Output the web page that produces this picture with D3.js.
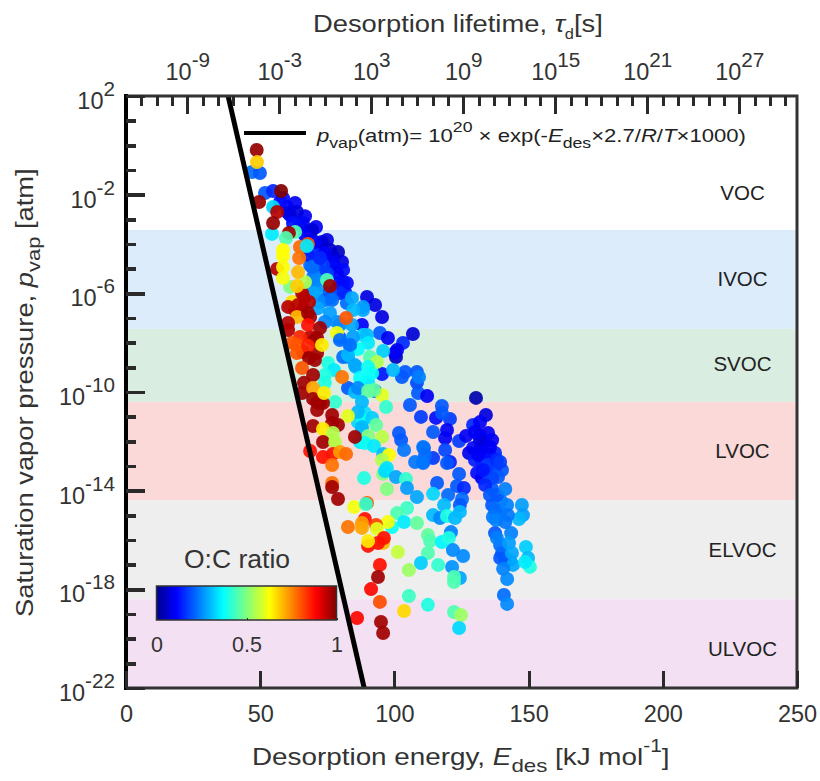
<!DOCTYPE html>
<html lang="en">
<head>
<meta charset="utf-8">
<title>Desorption energy vs saturation vapor pressure</title>
<script src="https://cdn.jsdelivr.net/npm/d3@7"></script>
<style>
    body { margin: 0; background: #fff; }
    svg { display: block; font-family: "Liberation Sans", Arial, sans-serif; }
    .axis text { font-size: 23.5px; fill: #333; }
    .axis line { stroke: #2a2a2a; shape-rendering: crispEdges; }
    .title { font-size: 24px; fill: #333; }
    .band-label { font-size: 20.5px; fill: #222; text-anchor: middle; }
</style>
</head>
<body>
<div id="chart"></div>
<script>
// volatility classes, log10(pvap) of the band edges
const bandNames = ["IVOC", "SVOC", "LVOC", "ELVOC", "ULVOC"];
const bandTop = [-3.43, -7.44, -10.4, -14.4, -18.4];
const bandBottom = [-7.44, -10.4, -14.4, -18.4, -22];
const bandColors = ["#dcecfb", "#d9eee0", "#fad9d8", "#eeeeee", "#f3e0f3"];
const labelNames = ["VOC", "IVOC", "SVOC", "LVOC", "ELVOC", "ULVOC"];
const labelLogP = [-2.2, -5.7, -9.15, -12.67, -16.7, -20.7];

// pvap fit, end points on the frame
const fitE = [38.04, 88.75];
const fitP = [1e2, 1e-22];

const xTicks = [0, 50, 100, 150, 200, 250];
const yMajorExp = [2, -2, -6, -10, -14, -18, -22];
const topMajorExp = [-9, -3, 3, 9, 15, 21, 27];

// blue compounds, drawn first
const eCool = [46.9,49.9,51.8,54.8,58.5,63.0,60.0,66.7,70.8,68.6,
    74.9,72.3,79.0,77.1,80.5,80.9,80.9,81.6,61.1,64.8,
    72.3,69.7,64.5,72.3,76.8,76.0,71.2,89.8,92.8,95.4,
    82.3,87.9,94.6,97.6,103.2,106.9,101.0,100.6,95.4,104.0,
    108.4,102.8,108.4,108.8,112.2,105.8,109.9,82.7,92.8,130.4,
    134.1,117.7,120.7,115.5,117.7,129.3,131.9,119.6,118.9,114.4,
    124.1,126.7,131.9,134.9,136.4,129.3,127.8,133.0,118.9,111.0,
    114.4,110.7,120.7,119.6,137.5,134.5,132.6,130.8,132.6,140.1,
    137.5,135.6,138.6,124.1,115.9,123.3,125.9,136.4,120.0,125.2,
    136.4,139.7,124.4,137.5,140.1,139.4,140.8,121.1,135.6,131.9,
    133.8,130.0,68.6,69.3,72.3,74.1,77.8,
    57.4,60.4,63.7,65.9,62.2,69.3,66.7,73.0,70.4,76.0,
    74.1,67.8,77.1,73.4,69.7,78.6,74.9,69.7,78.6,82.3,
    79.7,72.3,68.6,76.0,69.7,
    131.9,130.0,135.6,131.2,134.9,138.2,136.4,133.0,139.4,133.8,
    135.6,138.2,137.5,139.4,139.4,143.1,141.3];
const logPCool = [-1.08,-1.12,-1.93,-1.85,-2.14,-2.34,-2.50,-2.87,-3.31,-3.55,
    -3.84,-4.04,-4.32,-4.53,-4.73,-5.05,-5.54,-5.95,-2.83,-3.23,
    -4.53,-4.32,-3.11,-5.05,-4.97,-6.19,-5.99,-6.15,-6.47,-6.96,
    -6.39,-7.28,-7.61,-7.81,-8.01,-7.65,-8.30,-8.58,-9.27,-9.19,
    -9.19,-9.39,-9.63,-10.04,-10.16,-10.53,-11.01,-9.84,-9.96,-10.24,
    -10.93,-10.57,-11.09,-11.05,-10.85,-11.34,-11.22,-11.54,-11.87,-11.62,
    -11.99,-11.78,-11.74,-11.66,-11.95,-12.27,-12.47,-12.15,-12.35,-12.27,
    -12.68,-12.84,-12.84,-12.88,-12.47,-12.64,-12.84,-13.28,-13.49,-13.16,
    -13.04,-13.32,-13.45,-13.32,-13.69,-13.81,-13.89,-13.93,-14.18,-14.34,
    -14.58,-14.42,-14.58,-15.72,-16.53,-16.73,-18.23,-15.68,-12.55,-12.35,
    -13.16,-12.76,-4.85,-5.66,-5.66,-6.27,-5.86,
    -2.30,-2.74,-2.70,-3.15,-3.15,-3.43,-3.64,-3.92,-3.92,-4.24,
    -4.36,-4.45,-4.77,-4.85,-4.93,-5.18,-5.18,-5.34,-5.58,-5.58,
    -5.99,-6.35,-5.74,-5.95,-5.99,
    -11.95,-11.62,-12.23,-12.55,-12.96,-12.76,-13.49,-13.16,-12.84,-13.77,
    -14.18,-14.18,-14.78,-14.86,-16.2,-16.81,-16.81];
const ocCool = [.22,.2,.2,.15,.12,.1,.1,.1,.1,.08,
    .08,.07,.05,.08,.08,.12,.1,.13,.1,.1,
    .2,.15,.2,.22,.2,.22,.28,.08,.08,.08,
    .22,.1,.2,.1,.15,.07,.1,.05,.13,.2,
    .2,.2,.18,.2,.1,.2,.17,.2,.2,.03,
    .08,.2,.17,.12,.2,.15,.1,.1,.1,.2,
    .17,.1,.08,.1,.1,.12,.09,.08,.18,.2,
    .17,.2,.14,.2,.15,.17,.15,.12,.1,.2,
    .17,.2,.2,.2,.2,.2,.15,.2,.22,.22,
    .2,.23,.2,.2,.2,.2,.22,.24,.12,.1,
    .15,.14,.22,.27,.27,.22,.2,
    .12,.08,.08,.1,.12,.07,.1,.07,.1,.06,
    .1,.14,.1,.17,.2,.1,.17,.22,.12,.12,
    .15,.25,.25,.2,.28,
    .08,.1,.1,.1,.17,.15,.18,.13,.17,.15,
    .2,.2,.22,.22,.22,.27,.2];

// more blue and cyan in the crowded middle
const eFill = [69.3,72.3,71.2,76.8,78.6,79.7,83.5,88.3,88.3,84.6,
    82.7,100.2,85.7,80.9,85.3,90.2,91.7,89.0,86.4,88.3,
    87.9,87.2];
const logPFill = [-4.93,-4.57,-5.46,-6.27,-7.16,-7.81,-8.18,-7.69,-6.68,-7.77,
    -8.58,-8.42,-8.99,-8.58,-10.0,-9.59,-9.23,-10.85,-11.22,-11.13,
    -11.54,-12.03];
const ocFill = [.22,.15,.25,.22,.25,.2,.25,.33,.28,.27,
    .28,.1,.3,.22,.3,.35,.37,.34,.33,.38,
    .3,.35];

// cyan to yellow compounds
const eMid = [54.8,54.4,63.0,74.9,84.2,88.3,84.6,71.5,76.0,74.1,
    79.7,84.2,89.8,78.6,90.2,86.4,82.7,79.7,83.5,95.8,
    75.3,77.5,85.3,90.9,93.5,90.2,99.5,109.2,87.2,74.1,
    74.1,86.4,95.4,90.2,92.4,77.9,87.9,96.9,86.4,91.7,
    82.7,87.9,93.2,90.2,95.4,89.0,92.4,101.7,102.5,103.6,
    110.7,111.4,107.7,110.7,95.8,98.0,95.4,95.8,96.5,97.2,
    100.6,104.3,104.7,97.2,88.7,108.4,114.4,118.5,114.4,117.0,
    119.6,122.6,124.4,104.7,101.0,103.6,99.1,108.4,112.5,113.3,
    117.7,120.3,112.5,121.8,125.6,109.9,116.3,121.5,105.4,124.4,
    122.2,122.2,105.4,112.5,122.2,124.8,124.1,101.3,141.3,142.0,
    147.5,147.9,146.4,142.3,136.7,137.9,141.3,143.5,138.2,142.7,
    149.0,143.8,149.8,150.5,144.2,140.5,142.0,142.0,148.7];
const logPMid = [-2.50,-3.59,-3.51,-5.46,-6.19,-6.55,-6.68,-6.60,-6.80,-7.16,
    -7.28,-7.28,-7.69,-7.61,-8.01,-8.26,-8.50,-7.89,-8.09,-8.34,
    -8.82,-9.11,-8.91,-8.58,-8.78,-8.99,-9.11,-9.39,-9.43,-9.31,
    -9.63,-9.84,-10.12,-9.96,-9.92,-10.41,-10.41,-10.61,-10.81,-11.05,
    -10.97,-11.42,-11.34,-11.78,-11.82,-12.07,-12.19,-11.66,-11.95,-12.35,
    -12.23,-12.55,-12.84,-12.88,-12.51,-12.55,-12.76,-13.32,-13.20,-13.08,
    -13.45,-13.53,-13.89,-13.93,-13.49,-14.26,-14.13,-14.58,-14.99,-15.11,
    -15.03,-15.11,-14.86,-14.70,-14.91,-15.27,-15.47,-15.31,-15.80,-16.04,
    -16.08,-15.92,-16.53,-16.41,-16.65,-16.93,-17.01,-17.09,-17.22,-17.54,
    -17.50,-17.70,-18.27,-18.63,-18.92,-19.04,-19.57,-16.49,-13.93,-14.58,
    -14.58,-14.99,-15.15,-14.99,-15.07,-15.19,-15.27,-15.72,-15.92,-16.12,
    -16.28,-16.53,-16.73,-17.09,-17.01,-17.17,-17.58,-18.59,-16.89];
const ocMid = [.33,.35,.45,.45,.28,.27,.3,.28,.27,.25,
    .25,.28,.3,.62,.35,.37,.3,.22,.22,.32,
    .4,.35,.28,.45,.55,.38,.3,.24,.37,.4,
    .4,.25,.6,.47,.47,.42,.3,.42,.3,.32,
    .6,.3,.47,.5,.56,.38,.35,.2,.2,.23,
    .23,.22,.23,.23,.3,.63,.55,.5,.33,.34,
    .28,.42,.27,.5,.4,.28,.33,.3,.3,.25,
    .4,.3,.3,.43,.45,.35,.38,.47,.47,.45,
    .36,.4,.45,.25,.25,.32,.42,.26,.53,.28,
    .45,.45,.43,.4,.45,.53,.33,.57,.24,.24,
    .27,.27,.3,.23,.23,.24,.23,.24,.24,.27,
    .32,.28,.3,.4,.28,.24,.25,.25,.35];

// orange to dark red compounds, on top
const eWarm = [66.3,65.6,68.6,63.0,71.2,68.6,64.8,61.9,66.0,71.2,
    72.3,71.2,
    61.9,60.4,64.1,65.6,68.2,66.7,61.1,63.7,64.1,56.3,
    63.7,67.8,67.8,60.4,60.4,72.3,70.4,63.7,63.7,67.8,
    73.0,68.2,70.4,65.6,69.7,80.5,66.3,65.6,69.7,69.7,
    73.4,71.2,73.8,76.8,79.0,76.8,69.7,73.4,76.8,77.1,
    85.3,73.4,77.9,68.6,73.4,77.1,79.7,82.0,76.8,76.8,
    76.8,79.0,85.0,89.8,89.4,97.6,89.0,87.9,87.9,82.7,
    93.2,93.5,95.8,96.1,93.9,90.2,90.2,94.6,93.9,91.3,
    94.6,103.6,86.1,95.0,95.8,48.7,48.8,57.8,49.6,56.3,
    54.8,60.7,59.6,67.8,64.8,67.4,64.5,58.5,58.5,58.5,
    58.5,76.0,82.0];
const logPWarm = [-6.19,-6.55,-6.96,-6.68,-7.81,-7.77,-7.77,-8.01,-8.38,-8.42,
    -10.45,-10.41,
    -6.35,-6.55,-6.47,-5.99,-6.35,-5.54,-5.74,-5.70,-5.14,-5.01,
    -6.96,-6.80,-7.28,-7.20,-7.49,-7.41,-7.89,-8.09,-8.42,-8.13,
    -8.09,-8.62,-8.70,-9.03,-9.31,-9.39,-9.63,-10.04,-9.84,-10.28,
    -10.45,-10.73,-10.04,-10.93,-11.34,-11.26,-11.38,-11.50,-11.95,-11.66,
    -11.82,-12.03,-12.03,-12.39,-12.64,-12.51,-12.43,-12.51,-12.96,-13.69,
    -13.85,-14.34,-14.66,-14.50,-14.54,-15.27,-15.15,-15.31,-15.51,-15.47,
    -15.39,-15.55,-16.12,-15.92,-16.12,-16.24,-16.04,-17.01,-17.50,-17.99,
    -18.51,-18.88,-19.16,-19.32,-19.77,-0.19,-0.68,-1.85,-2.30,-2.70,
    -3.15,-3.55,-3.76,-4.00,-4.12,-4.08,-4.57,-4.24,-4.49,-4.93,
    -5.38,-5.70,-7.00];
const ocWarm = [.97,.97,.97,.95,.97,.95,.85,.8,.97,.97,
    .97,.97,
    .66,.95,.95,.95,.95,.55,.5,.68,.7,.95,
    .7,.97,.87,.95,.95,.97,.97,.8,.8,.85,
    .65,.97,.97,.8,.97,.77,.97,.97,.72,.97,
    .97,.97,.65,.97,.97,.97,.97,.65,.72,.55,
    .97,.97,.55,.87,.87,.87,.73,.78,.77,.77,
    .97,.97,.62,.8,.42,.62,.87,.73,.72,.77,
    .82,.6,.7,.87,.87,.87,.65,.87,.97,.88,
    .81,.67,.88,.97,.97,.98,.68,1,.98,.95,
    .98,.97,.45,.8,.78,.35,.77,.63,.63,.63,
    .62,.97,.8];

const eDes = eCool.concat(eFill, eMid, eWarm);
const logPvap = logPCool.concat(logPFill, logPMid, logPWarm);
const ocRatio = ocCool.concat(ocFill, ocMid, ocWarm);

const WIDTH = 820,
      HEIGHT = 781,
      MARGIN = {top: 96, right: 23, bottom: 93, left: 126};

// jet colormap
const jetStops = [0, 0.11, 0.37, 0.63, 0.885, 1];
const jetColors = ["#00008f", "#0000ff", "#00ffff", "#ffff00", "#ff0000", "#800000"];
const color = d3.scaleLinear().domain(jetStops).range(jetColors);

const xScale = d3.scaleLinear()
    .domain([0, 250])
    .range([MARGIN.left, WIDTH - MARGIN.right]);
const yScale = d3.scaleLog()
    .domain([1e2, 1e-22])
    .range([MARGIN.top, HEIGHT - MARGIN.bottom]);
const topScale = d3.scaleLog()
    .domain([1e-13, Math.pow(10, 30.77)])
    .range([MARGIN.left, WIDTH - MARGIN.right]);

const svg = d3.select("#chart").append("svg")
    .attr("width", WIDTH)
    .attr("height", HEIGHT);

// text with italics, subscripts and superscripts
function richText(sel, parts) {
    let shift = 0;
    parts.forEach(function(p) {
        let kind = p[1] || "";
        let size = parseFloat(sel.style("font-size"));
        let target = kind == "sub" ? 0.3 * size : kind == "sup" ? -0.55 * size : 0;
        let span = sel.append("tspan").text(p[0]).attr("dy", target - shift);
        shift = target;
        if (kind == "i") span.style("font-style", "italic");
        if (kind == "sub" || kind == "sup") span.style("font-size", (size * (p[2] || 0.8)) + "px");
    });
}

// bands
svg.selectAll(".band")
    .data(bandNames)
    .enter().append("rect")
    .attr("class", "band")
    .attr("x", MARGIN.left)
    .attr("width", xScale.range()[1] - MARGIN.left)
    .attr("y", (d, i) => yScale(Math.pow(10, bandTop[i])))
    .attr("height", (d, i) => yScale(Math.pow(10, bandBottom[i])) - yScale(Math.pow(10, bandTop[i])))
    .attr("fill", (d, i) => bandColors[i]);

svg.selectAll(".band-label")
    .data(labelNames)
    .enter().append("text")
    .attr("class", "band-label")
    .attr("x", 742.5)
    .attr("y", (d, i) => yScale(Math.pow(10, labelLogP[i])))
    .text(d => d);

// points
svg.selectAll(".dot")
    .data(d3.range(eDes.length))
    .enter().append("circle")
    .attr("class", "dot")
    .attr("cx", i => xScale(eDes[i]))
    .attr("cy", i => yScale(Math.pow(10, logPvap[i])))
    .attr("r", 7)
    .attr("fill", i => color(ocRatio[i]))
    .attr("fill-opacity", 0.92);

// fit line and its legend
svg.append("line")
    .attr("x1", xScale(fitE[0])).attr("y1", yScale(fitP[0]))
    .attr("x2", xScale(fitE[1])).attr("y2", yScale(fitP[1]))
    .attr("stroke", "#000")
    .attr("stroke-width", 5);

svg.append("line")
    .attr("x1", 244).attr("x2", 306)
    .attr("y1", 133).attr("y2", 133)
    .attr("stroke", "#000")
    .attr("stroke-width", 4);

svg.append("text")
    .attr("transform", "translate(317,142) scale(1.175,1)")
    .style("font-size", "18.8px")
    .style("fill", "#222")
    .call(richText, [["p", "i"], ["vap", "sub"], ["(atm)= 10"], ["20", "sup"], [" × "],
                     [" exp(-"], ["E", "i"], ["des", "sub"], ["×2.7/"], ["R", "i"], ["/"], ["T", "i"], ["×1000)"]]);

// colorbar
let gradient = svg.append("defs").append("linearGradient").attr("id", "jet");
gradient.selectAll("stop")
    .data(jetStops)
    .enter().append("stop")
    .attr("offset", d => d)
    .attr("stop-color", (d, i) => jetColors[i]);

const cbScale = d3.scaleLinear().domain([0, 1]).range([156.5, 336.5]);

svg.append("rect")
    .attr("x", 156.5).attr("y", 586)
    .attr("width", 180).attr("height", 34)
    .attr("fill", "url(#jet)")
    .attr("stroke", "#333")
    .attr("stroke-width", 1.5);

svg.append("g")
    .attr("class", "axis")
    .attr("transform", "translate(0,620)")
    .call(d3.axisBottom(cbScale).tickValues([0, 0.5, 1]).tickSize(-2).tickFormat(d => d))
    .call(g => g.select(".domain").remove())
    .selectAll("text")
    .style("font-size", "21.5px")
    .attr("y", 17);

svg.append("text")
    .attr("x", 237).attr("y", 568)
    .attr("text-anchor", "middle")
    .style("font-size", "26.5px")
    .style("fill", "#333")
    .text("O:C ratio");

// frame
svg.append("rect")
    .attr("x", MARGIN.left).attr("y", MARGIN.top)
    .attr("width", xScale.range()[1] - MARGIN.left)
    .attr("height", yScale.range()[1] - MARGIN.top)
    .attr("fill", "none")
    .attr("stroke", "#333")
    .attr("stroke-width", 3);

svg.append("line")
    .attr("x1", MARGIN.left).attr("x2", MARGIN.left)
    .attr("y1", MARGIN.top - 2).attr("y2", yScale.range()[1] + 2)
    .attr("stroke", "#000")
    .attr("stroke-width", 4);

// axes
svg.append("g")
    .attr("class", "axis")
    .attr("transform", "translate(0," + yScale.range()[1] + ")")
    .call(d3.axisBottom(xScale).tickValues(xTicks).tickSize(-17).tickPadding(17).tickFormat(d => d))
    .call(g => g.select(".domain").remove())
    .call(g => g.selectAll("line").attr("stroke-width", 3));

function tenPower(g, expOf) {
    g.selectAll("text").text("").each(function(d) {
        richText(d3.select(this), [["10"], [expOf(d), "sup", 0.88]]);
    });
}

svg.append("g")
    .attr("class", "axis")
    .attr("transform", "translate(" + MARGIN.left + ",0)")
    .call(d3.axisLeft(yScale).tickValues(d3.range(-22, 3).map(e => Math.pow(10, e))).tickSize(-10).tickFormat(""))
    .call(g => g.select(".domain").remove())
    .call(g => g.selectAll("line").attr("stroke", "#000").attr("stroke-width", 3.5));

svg.append("g")
    .attr("class", "axis")
    .attr("transform", "translate(" + MARGIN.left + ",0)")
    .call(d3.axisLeft(yScale).tickValues(yMajorExp.map(e => Math.pow(10, e))).tickSize(-19).tickPadding(11).tickFormat(d => "x"))
    .call(g => g.select(".domain").remove())
    .call(g => g.selectAll("line").attr("stroke", "#000").attr("stroke-width", 3.5))
    .call(g => g.selectAll("text").attr("dy", 0).attr("y", 12.5))
    .call(tenPower, d => Math.round(Math.log10(d)));

svg.append("g")
    .attr("class", "axis")
    .attr("transform", "translate(0," + MARGIN.top + ")")
    .call(d3.axisTop(topScale).tickValues(d3.range(-12, 31).map(e => Math.pow(10, e))).tickSize(-10).tickFormat(""))
    .call(g => g.select(".domain").remove())
    .call(g => g.selectAll("line").attr("stroke-width", 3));

svg.append("g")
    .attr("class", "axis")
    .attr("transform", "translate(0," + MARGIN.top + ")")
    .call(d3.axisTop(topScale).tickValues(topMajorExp.map(e => Math.pow(10, e))).tickSize(-18).tickPadding(16).tickFormat(d => "x"))
    .call(g => g.select(".domain").remove())
    .call(g => g.selectAll("line").attr("stroke-width", 3))
    .call(g => g.selectAll("text").attr("dy", 0))
    .call(tenPower, d => Math.round(Math.log10(d)));

// titles, stretched sideways like the original
svg.append("text")
    .attr("class", "title")
    .attr("transform", "translate(313,32) scale(1.14,1)")
    .call(richText, [["Desorption lifetime, "], ["τ", "i"], ["d", "sub", 0.6], ["[s]"]]);

svg.append("text")
    .attr("class", "title")
    .attr("transform", "translate(252,765) scale(1.16,1)")
    .call(richText, [["Desorption energy, "], ["E", "i"], ["des", "sub"], [" [kJ mol"], ["-1", "sup", 0.75], ["]"]]);

svg.append("text")
    .attr("class", "title")
    .attr("transform", "translate(33,617) rotate(-90) scale(1.14,1)")
    .call(richText, [["Saturation vapor pressure, "], ["p", "i"], ["vap", "sub"], [" [atm]"]]);
</script>
</body>
</html>
